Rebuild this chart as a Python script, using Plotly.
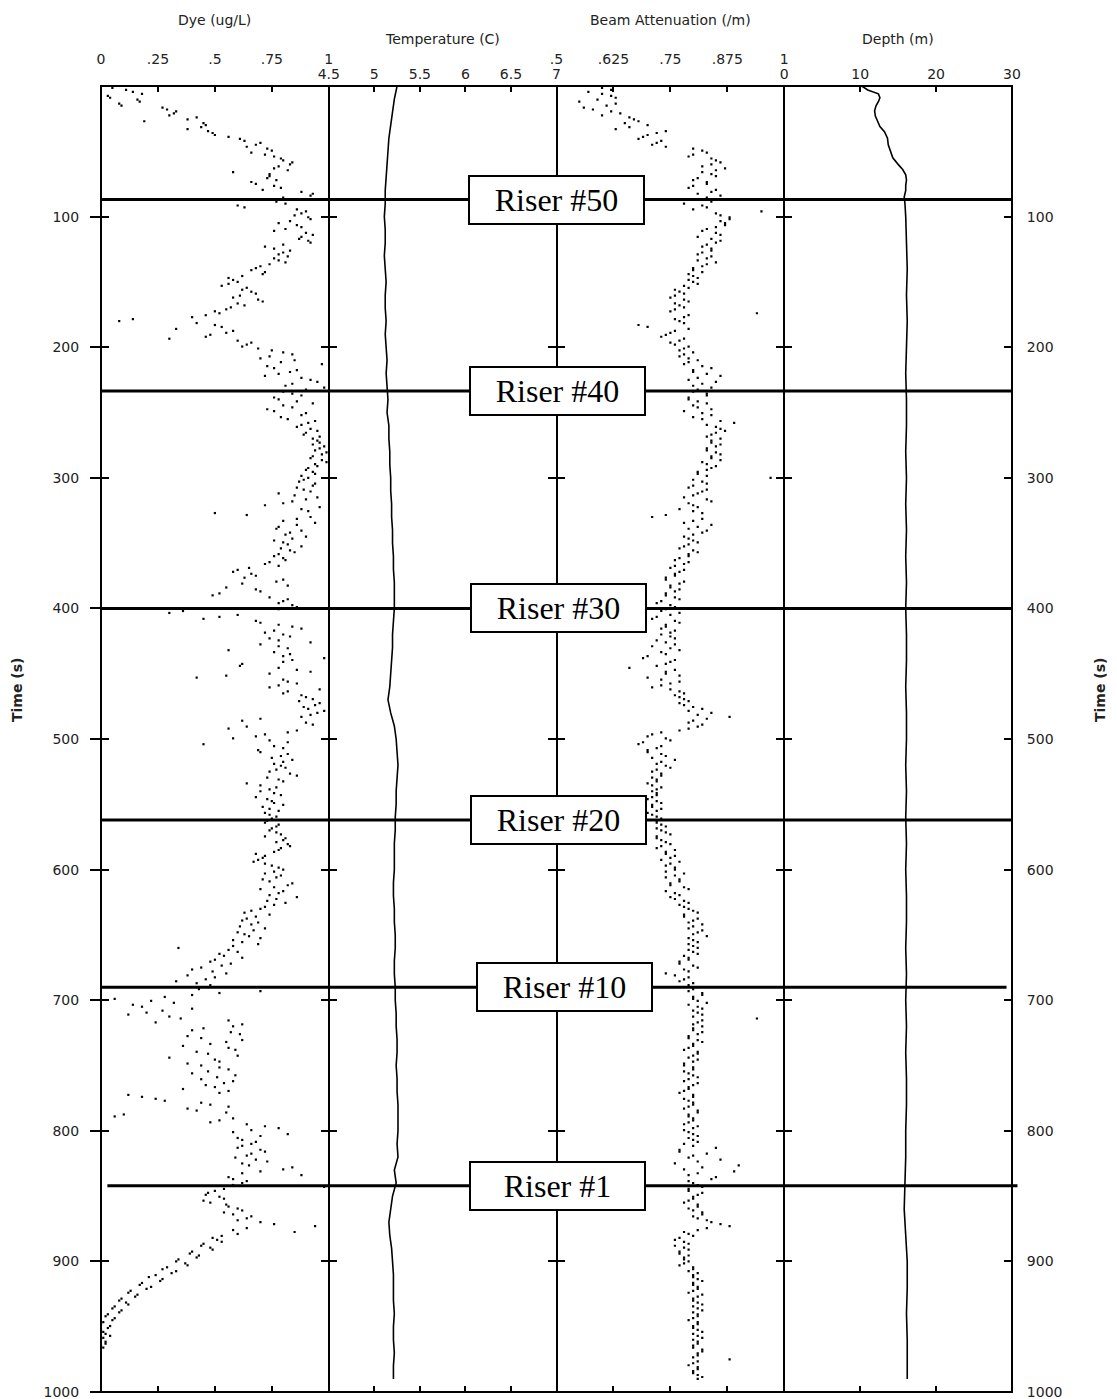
import plotly.graph_objects as go

# ---- data -------------------------------------------------------------
# Dye concentration (ug/L): two interleaved sample sets, every 3 s
dye_time = list(range(0, 967, 3))
dye = [
    0.02, 0.11, 0.18, 0.04, 0.17, 0.09, 0.29, 0.32, 0.42, 0.19,
    0.46, 0.38, 0.49, 0.56, 0.63, 0.68, 0.73, 0.66, 0.76, 0.80,
    0.83, 0.76, 0.58, 0.74, 0.77, 0.68, 0.79, 0.88, 0.92, 0.79,
    0.81, 0.63, 0.90, 0.85, 0.92, 0.78, 0.88, 0.76, 0.93, 0.87,
    0.92, 0.72, 0.83, 0.78, 0.76, 0.81, 0.70, 0.66, 0.71, 0.56,
    0.60, 0.53, 0.62, 0.68, 0.58, 0.71, 0.63, 0.55, 0.52, 0.40,
    0.08, 0.50, 0.33, 0.55, 0.46, 0.60, 0.64, 0.69, 0.80, 0.74,
    0.85, 0.97, 0.76, 0.83, 0.72, 0.92, 0.84, 0.98, 0.80, 0.88,
    0.78, 0.93, 0.84, 0.76, 0.88, 0.82, 0.91, 0.86, 0.95, 0.89,
    0.93, 0.96, 0.98, 0.94, 0.97, 0.92, 0.99, 0.95, 0.90, 0.94,
    0.91, 0.87, 0.93, 0.89, 0.78, 0.95, 0.84, 0.72, 0.88, 0.50,
    0.92, 0.80, 0.86, 0.77, 0.83, 0.90, 0.76, 0.82, 0.79, 0.85,
    0.76, 0.81, 0.72, 0.65, 0.58, 0.68, 0.80, 0.62, 0.55, 0.70,
    0.49, 0.82, 0.78, 0.86, 0.36, 0.60, 0.45, 0.70, 0.84, 0.76,
    0.80, 0.74, 0.92, 0.78, 0.56, 0.83, 0.98, 0.80, 0.61, 0.86,
    0.74, 0.42, 0.82, 0.78, 0.96, 0.80, 0.90, 0.87, 0.94, 0.91,
    0.95, 0.88, 0.62, 0.93, 0.56, 0.82, 0.68, 0.74, 0.45, 0.80,
    0.70, 0.79, 0.84, 0.76, 0.81, 0.74, 0.86, 0.78, 0.64, 0.77,
    0.70, 0.79, 0.73, 0.76, 0.71, 0.78, 0.74, 0.75, 0.72, 0.77,
    0.74, 0.79, 0.81, 0.77, 0.83, 0.78, 0.68, 0.71, 0.67, 0.75,
    0.80, 0.72, 0.77, 0.74, 0.82, 0.70, 0.78, 0.86, 0.73, 0.76,
    0.70, 0.63, 0.68, 0.62, 0.66, 0.72, 0.60, 0.65, 0.58, 0.69,
    0.34, 0.60, 0.54, 0.50, 0.57, 0.44, 0.49, 0.38, 0.46, 0.42,
    0.47, 0.70, 0.40, 0.06, 0.32, 0.18, 0.27, 0.12, 0.35, 0.24,
    0.58, 0.40, 0.61, 0.44, 0.55, 0.36, 0.59, 0.47, 0.30, 0.52,
    0.44, 0.56, 0.40, 0.51, 0.58, 0.46, 0.36, 0.52, 0.18, 0.28,
    0.48, 0.38, 0.55, 0.06, 0.52, 0.64, 0.78, 0.58, 0.70, 0.62,
    0.66, 0.60, 0.72, 0.64, 0.68, 0.62, 0.84, 0.70, 0.88, 0.58,
    0.62, 0.98, 0.50, 0.46, 0.54, 0.48, 0.56, 0.62, 0.58, 0.64,
    0.70, 0.94, 0.58, 0.60, 0.49, 0.53, 0.44, 0.49, 0.39, 0.42,
    0.33, 0.38, 0.27, 0.31, 0.21, 0.26, 0.17, 0.20, 0.12, 0.15,
    0.08, 0.12, 0.05, 0.08, 0.02, 0.05, 0.00, 0.03, 0.01, 0.04,
    0.00, 0.02, 0.01,
]
dye_time_b = [t + 1.5 for t in range(0, 966, 3)]
dye_b = [
    0.05, 0.14, 0.03, 0.16, 0.08, 0.27, 0.33, 0.30, 0.38, 0.45,
    0.44, 0.47, 0.50, 0.61, 0.70, 0.64, 0.75, 0.72, 0.79, 0.84,
    0.78, 0.82, 0.74, 0.73, 0.66, 0.76, 0.71, 0.93, 0.80, 0.77,
    0.60, 0.86, 0.88, 0.91, 0.83, 0.86, 0.81, 0.90, 0.88, 0.91,
    0.80, 0.76, 0.80, 0.82, 0.78, 0.74, 0.68, 0.72, 0.62, 0.58,
    0.56, 0.64, 0.66, 0.61, 0.69, 0.60, 0.57, 0.50, 0.46, 0.14,
    0.42, 0.53, 0.58, 0.48, 0.30, 0.66, 0.62, 0.75, 0.84, 0.70,
    0.79, 0.73, 0.86, 0.78, 0.88, 0.95, 0.81, 0.90, 0.84, 0.76,
    0.86, 0.80, 0.73, 0.90, 0.79, 0.94, 0.88, 0.92, 0.90, 0.96,
    0.95, 0.93, 0.96, 0.99, 0.93, 0.97, 0.94, 0.91, 0.93, 0.88,
    0.89, 0.94, 0.86, 0.92, 0.85, 0.90, 0.80, 0.96, 0.91, 0.64,
    0.86, 0.94, 0.78, 0.88, 0.81, 0.84, 0.80, 0.88, 0.83, 0.78,
    0.80, 0.74, 0.78, 0.60, 0.66, 0.63, 0.77, 0.82, 0.68, 0.52,
    0.74, 0.80, 0.84, 0.78, 0.30, 0.52, 0.68, 0.78, 0.88, 0.72,
    0.83, 0.78, 0.70, 0.82, 0.76, 0.80, 0.84, 0.62, 0.78, 0.92,
    0.55, 0.80, 0.86, 0.74, 0.82, 0.88, 0.93, 0.96, 0.89, 0.98,
    0.92, 0.70, 0.90, 0.64, 0.86, 0.72, 0.58, 0.82, 0.76, 0.69,
    0.82, 0.75, 0.80, 0.79, 0.77, 0.83, 0.73, 0.80, 0.70, 0.74,
    0.76, 0.68, 0.75, 0.80, 0.74, 0.72, 0.77, 0.73, 0.78, 0.75,
    0.77, 0.72, 0.80, 0.82, 0.79, 0.76, 0.72, 0.69, 0.72, 0.78,
    0.76, 0.79, 0.71, 0.84, 0.76, 0.80, 0.74, 0.77, 0.81, 0.72,
    0.66, 0.74, 0.64, 0.69, 0.61, 0.67, 0.63, 0.70, 0.62, 0.58,
    0.56, 0.52, 0.62, 0.48, 0.53, 0.40, 0.55, 0.50, 0.33, 0.48,
    0.43, 0.52, 0.28, 0.22, 0.14, 0.40, 0.20, 0.30, 0.56, 0.62,
    0.45, 0.57, 0.38, 0.62, 0.48, 0.56, 0.42, 0.60, 0.50, 0.38,
    0.52, 0.47, 0.59, 0.44, 0.54, 0.50, 0.56, 0.12, 0.24, 0.44,
    0.56, 0.42, 0.10, 0.58, 0.48, 0.72, 0.66, 0.82, 0.60, 0.68,
    0.62, 0.70, 0.66, 0.59, 0.73, 0.65, 0.80, 0.62, 0.56, 0.64,
    0.58, 0.54, 0.47, 0.52, 0.45, 0.55, 0.60, 0.54, 0.66, 0.60,
    0.76, 0.64, 0.85, 0.53, 0.51, 0.45, 0.48, 0.40, 0.43, 0.34,
    0.37, 0.29, 0.33, 0.24, 0.27, 0.18, 0.22, 0.13, 0.16, 0.09,
    0.11, 0.06, 0.09, 0.03, 0.06, 0.01, 0.04, 0.00, 0.02, 0.01,
    0.02, 0.00,
]

# Temperature (C), every 10 s
temp_time = list(range(0, 991, 10))
temperature = [
    5.25, 5.22, 5.20, 5.18, 5.16, 5.15, 5.14, 5.13, 5.12, 5.12,
    5.11, 5.12, 5.12, 5.11, 5.12, 5.13, 5.12, 5.12, 5.13, 5.12,
    5.13, 5.14, 5.13, 5.14, 5.15, 5.14, 5.16, 5.16, 5.17, 5.17,
    5.18, 5.18, 5.19, 5.19, 5.20, 5.20, 5.21, 5.21, 5.22, 5.22,
    5.22, 5.21, 5.20, 5.20, 5.19, 5.18, 5.17, 5.15, 5.18, 5.22,
    5.24, 5.25, 5.26, 5.25, 5.24, 5.24, 5.23, 5.23, 5.22, 5.22,
    5.22, 5.21, 5.21, 5.22, 5.22, 5.23, 5.23, 5.22, 5.22, 5.23,
    5.23, 5.24, 5.24, 5.25, 5.25, 5.24, 5.25, 5.25, 5.26, 5.26,
    5.26, 5.25, 5.26, 5.22, 5.24, 5.20, 5.18, 5.16, 5.17, 5.19,
    5.20, 5.21, 5.21, 5.21, 5.22, 5.21, 5.21, 5.22, 5.21, 5.21,
]

# Beam attenuation (/m): two interleaved sample sets, every 3 s
beam_time = list(range(0, 991, 3))
beam = [
    0.58, 0.62, 0.60, 0.63, 0.55, 0.61, 0.58, 0.64, 0.66, 0.68,
    0.70, 0.63, 0.72, 0.69, 0.73, 0.71, 0.80, 0.83, 0.79, 0.85,
    0.84, 0.87, 0.82, 0.85, 0.80, 0.83, 0.79, 0.84, 0.86, 0.82,
    0.78, 0.83, 0.95, 0.86, 0.88, 0.87, 0.85, 0.82, 0.86, 0.84,
    0.85, 0.82, 0.84, 0.81, 0.83, 0.85, 0.82, 0.80, 0.79, 0.81,
    0.80, 0.78, 0.76, 0.78, 0.75, 0.79, 0.77, 0.76, 0.94, 0.78,
    0.77, 0.68, 0.79, 0.75, 0.73, 0.77, 0.76, 0.78, 0.80, 0.77,
    0.81, 0.78, 0.84, 0.80, 0.86, 0.79, 0.82, 0.84, 0.80, 0.83,
    0.79, 0.83, 0.81, 0.78, 0.84, 0.82, 0.89, 0.85, 0.87, 0.84,
    0.86, 0.84, 0.85, 0.83, 0.86, 0.84, 0.82, 0.85, 0.83, 0.81,
    0.97, 0.82, 0.80, 0.83, 0.81, 0.78, 0.84, 0.80, 0.77, 0.82,
    0.71, 0.80, 0.84, 0.79, 0.82, 0.78, 0.80, 0.79, 0.77, 0.81,
    0.79, 0.76, 0.78, 0.75, 0.77, 0.76, 0.74, 0.77, 0.75, 0.76,
    0.74, 0.77, 0.72, 0.76, 0.73, 0.75, 0.71, 0.77, 0.74, 0.76,
    0.73, 0.76, 0.74, 0.71, 0.77, 0.74, 0.69, 0.75, 0.72, 0.76,
    0.74, 0.70, 0.77, 0.73, 0.75, 0.78, 0.77, 0.79, 0.78, 0.82,
    0.84, 0.88, 0.80, 0.82, 0.79, 0.73, 0.70, 0.75, 0.68, 0.72,
    0.70, 0.74, 0.76, 0.72, 0.75, 0.71, 0.73, 0.72, 0.70, 0.73,
    0.71, 0.72, 0.70, 0.73, 0.71, 0.72, 0.71, 0.73, 0.72, 0.74,
    0.73, 0.75, 0.72, 0.74, 0.73, 0.76, 0.74, 0.75, 0.77, 0.74,
    0.76, 0.78, 0.74, 0.77, 0.75, 0.79, 0.76, 0.75, 0.78, 0.77,
    0.79, 0.81, 0.78, 0.80, 0.82, 0.79, 0.81, 0.83, 0.80, 0.79,
    0.81, 0.80, 0.78, 0.79, 0.77, 0.81, 0.79, 0.76, 0.78, 0.80,
    0.81, 0.79, 0.82, 0.80, 0.83, 0.81, 0.80, 0.82, 0.94, 0.81,
    0.82, 0.80, 0.81, 0.79, 0.82, 0.80, 0.78, 0.81, 0.79, 0.80,
    0.78, 0.80, 0.79, 0.81, 0.78, 0.80, 0.79, 0.77, 0.80, 0.79,
    0.80, 0.78, 0.81, 0.79, 0.80, 0.78, 0.80, 0.79, 0.81, 0.80,
    0.78, 0.85, 0.77, 0.80, 0.86, 0.76, 0.82, 0.89, 0.79, 0.84,
    0.80, 0.82, 0.79, 0.81, 0.80, 0.78, 0.81, 0.80, 0.82, 0.81,
    0.84, 0.88, 0.81, 0.79, 0.77, 0.78, 0.76, 0.79, 0.77, 0.78,
    0.79, 0.77, 0.80, 0.81, 0.80, 0.82, 0.80, 0.81, 0.79, 0.81,
    0.80, 0.82, 0.81, 0.80, 0.81, 0.79, 0.81, 0.80, 0.82, 0.81,
    0.80, 0.81, 0.80, 0.82, 0.81, 0.88, 0.80, 0.81, 0.80, 0.81,
    0.81,
]
beam_time_b = [t + 1.5 for t in range(0, 990, 3)]
beam_b = [
    0.60, 0.57, 0.62, 0.59, 0.63, 0.56, 0.62, 0.60, 0.67, 0.65,
    0.66, 0.74, 0.70, 0.68, 0.72, 0.74, 0.82, 0.80, 0.84, 0.86,
    0.82, 0.85, 0.84, 0.81, 0.83, 0.80, 0.85, 0.81, 0.83, 0.84,
    0.82, 0.80, 0.85, 0.88, 0.86, 0.87, 0.83, 0.85, 0.81, 0.86,
    0.83, 0.84, 0.82, 0.84, 0.81, 0.83, 0.80, 0.82, 0.80, 0.79,
    0.81, 0.79, 0.77, 0.76, 0.78, 0.76, 0.78, 0.75, 0.79, 0.76,
    0.78, 0.70, 0.76, 0.74, 0.78, 0.75, 0.79, 0.77, 0.78, 0.79,
    0.79, 0.82, 0.80, 0.83, 0.81, 0.85, 0.80, 0.81, 0.83, 0.79,
    0.81, 0.80, 0.84, 0.82, 0.80, 0.86, 0.83, 0.86, 0.85, 0.83,
    0.84, 0.86, 0.83, 0.85, 0.84, 0.86, 0.83, 0.84, 0.81, 0.83,
    0.80, 0.83, 0.79, 0.82, 0.80, 0.83, 0.79, 0.81, 0.80, 0.74,
    0.82, 0.78, 0.81, 0.83, 0.80, 0.79, 0.81, 0.78, 0.80, 0.79,
    0.77, 0.79, 0.76, 0.78, 0.76, 0.74, 0.78, 0.75, 0.77, 0.74,
    0.76, 0.73, 0.75, 0.74, 0.77, 0.72, 0.76, 0.74, 0.73, 0.75,
    0.75, 0.72, 0.76, 0.75, 0.73, 0.70, 0.76, 0.74, 0.66, 0.74,
    0.77, 0.73, 0.75, 0.71, 0.77, 0.76, 0.78, 0.77, 0.80, 0.79,
    0.81, 0.83, 0.79, 0.81, 0.77, 0.71, 0.74, 0.69, 0.73, 0.70,
    0.73, 0.71, 0.73, 0.74, 0.72, 0.73, 0.71, 0.72, 0.71, 0.72,
    0.72, 0.71, 0.72, 0.71, 0.73, 0.70, 0.72, 0.72, 0.73, 0.72,
    0.74, 0.72, 0.73, 0.75, 0.72, 0.74, 0.76, 0.73, 0.75, 0.76,
    0.74, 0.76, 0.77, 0.75, 0.78, 0.74, 0.77, 0.76, 0.79, 0.78,
    0.80, 0.78, 0.81, 0.79, 0.80, 0.82, 0.80, 0.79, 0.81, 0.80,
    0.79, 0.81, 0.79, 0.77, 0.80, 0.78, 0.74, 0.79, 0.77, 0.79,
    0.80, 0.82, 0.80, 0.81, 0.79, 0.82, 0.81, 0.80, 0.82, 0.80,
    0.80, 0.82, 0.79, 0.81, 0.80, 0.79, 0.81, 0.80, 0.81, 0.78,
    0.80, 0.78, 0.80, 0.79, 0.81, 0.79, 0.78, 0.80, 0.78, 0.80,
    0.79, 0.81, 0.79, 0.80, 0.79, 0.81, 0.78, 0.80, 0.79, 0.81,
    0.80, 0.77, 0.83, 0.79, 0.81, 0.90, 0.78, 0.81, 0.85, 0.79,
    0.81, 0.79, 0.82, 0.80, 0.79, 0.81, 0.79, 0.82, 0.80, 0.83,
    0.86, 0.83, 0.78, 0.80, 0.76, 0.79, 0.78, 0.77, 0.79, 0.78,
    0.78, 0.80, 0.79, 0.80, 0.81, 0.80, 0.81, 0.80, 0.82, 0.80,
    0.81, 0.80, 0.82, 0.81, 0.80, 0.81, 0.80, 0.81, 0.80, 0.82,
    0.81, 0.80, 0.82, 0.81, 0.80, 0.81, 0.79, 0.81, 0.80, 0.82,
]

# Depth (m)
depth_time = [0, 3, 6, 9, 12, 15, 19, 23, 27, 31, 35, 40, 45, 50, 55, 60,
              64, 68, 72, 76, 80, 85, 90,
              100, 120, 140, 160, 180, 200, 220, 240, 260, 280, 300, 320,
              340, 360, 380, 400, 420, 440, 460, 480, 500, 520, 540, 560,
              580, 600, 620, 640, 660, 680, 700, 720, 740, 760, 780, 800,
              820, 840, 860, 880, 900, 920, 940, 960, 980, 990]
depth = [10.2, 11.0, 12.4, 12.6, 12.4, 12.1, 11.9, 12.0, 12.3, 12.6, 13.2,
         13.6, 13.7, 14.0, 14.3, 15.0, 15.6, 16.0, 16.1, 16.0, 16.0, 15.8,
         15.9,
         16.0, 16.1, 16.2, 16.1, 16.2, 16.1, 16.0, 16.1, 16.1, 16.0, 16.1,
         16.0, 16.1, 16.0, 16.1, 16.0, 16.1, 16.1, 16.0, 16.1, 16.1, 16.0,
         16.1, 16.0, 16.1, 16.0, 16.1, 16.1, 16.0, 16.1, 16.0, 16.1, 16.0,
         16.1, 16.1, 16.0, 16.0, 15.9, 15.8, 16.0, 16.2, 16.2, 16.1, 16.2,
         16.2, 16.2]

# Riser crossings (s)
riser_names = ["Riser #50", "Riser #40", "Riser #30", "Riser #20", "Riser #10", "Riser #1"]
riser_time = [87, 233.5, 400, 562, 690, 842]

# Top axis ticks
dye_ticks = [0, 0.25, 0.5, 0.75, 1]
dye_ticktext = ["0", ".25", ".5", ".75", "1"]
temp_ticks = [4.5, 5, 5.5, 6, 6.5, 7]
temp_ticktext = ["4.5", "5", "5.5", "6", "6.5", "7"]
beam_ticks = [0.5, 0.625, 0.75, 0.875, 1]
beam_ticktext = [".5", ".625", ".75", ".875", "1"]
depth_ticks = [0, 10, 20, 30]
depth_ticktext = ["0", "10", "20", "30"]
time_ticks = [100, 200, 300, 400, 500, 600, 700, 800, 900, 1000]

# ---- figure -----------------------------------------------------------
SANS = "DejaVu Sans"
SERIF = "Liberation Serif, Times New Roman, serif"
INK = "black"

fig = go.Figure()
dots = dict(symbol="square", size=2.2, color=INK, line=dict(width=0))
# second dye set sits on an overlaid copy of the time axis that carries the
# outer left tick marks and labels
fig.add_trace(go.Scatter(x=dye, y=dye_time, mode="markers", marker=dots,
                         xaxis="x", yaxis="y", hoverinfo="skip"))
fig.add_trace(go.Scatter(x=dye_b, y=dye_time_b, mode="markers", marker=dots,
                         xaxis="x", yaxis="y5", hoverinfo="skip"))
fig.add_trace(go.Scatter(x=temperature, y=temp_time, mode="lines",
                         line=dict(color=INK, width=1.6),
                         xaxis="x2", yaxis="y2", hoverinfo="skip"))
for xs, ys in ((beam, beam_time), (beam_b, beam_time_b)):
    fig.add_trace(go.Scatter(x=xs, y=ys, mode="markers", marker=dots,
                             xaxis="x3", yaxis="y3", hoverinfo="skip"))
fig.add_trace(go.Scatter(x=depth, y=depth_time, mode="lines",
                         line=dict(color=INK, width=1.6),
                         xaxis="x4", yaxis="y4", hoverinfo="skip"))

frame = dict(showline=True, linecolor=INK, linewidth=1.1, mirror="ticks",
             ticks="inside", tickcolor=INK, tickwidth=1.5, automargin=False,
             showgrid=False, zeroline=False, fixedrange=True,
             ticklabeloverflow="allow")
tickfont = dict(family=SANS, size=14, color="#222")

def top_axis(domain, rng, vals, text, anchor, standoff):
    return dict(frame, domain=domain, range=rng, side="top", anchor=anchor,
                tickmode="array", tickvals=vals, ticktext=text, ticklen=6,
                tickfont=tickfont, ticklabelstandoff=standoff)

def time_axis(anchor, side, labels, standoff=0):
    return dict(frame, domain=[0, 1], range=[1000, 0], anchor=anchor, side=side,
                tickmode="array", tickvals=time_ticks, ticklen=8,
                showticklabels=labels, tickfont=tickfont,
                ticklabelstandoff=standoff)

fig.update_layout(
    width=1117, height=1399,
    margin=dict(l=101, r=105, t=86, b=7),
    paper_bgcolor="white", plot_bgcolor="white",
    showlegend=False,
    xaxis=top_axis([0, 0.25], [0, 1], dye_ticks, dye_ticktext, "y", 15),
    xaxis2=top_axis([0.25, 0.5], [4.5, 7], temp_ticks, temp_ticktext, "y2", 0),
    xaxis3=top_axis([0.5, 0.75], [0.5, 1], beam_ticks, beam_ticktext, "y3", 15),
    xaxis4=top_axis([0.75, 1], [0, 30], depth_ticks, depth_ticktext, "y4", 0),
    yaxis=time_axis("x", "left", False),
    yaxis2=time_axis("x2", "left", False),
    yaxis3=time_axis("x3", "left", False),
    yaxis4=time_axis("x4", "right", True, 11),
    yaxis5=dict(overlaying="y", anchor="x", side="left", range=[1000, 0],
                tickmode="array", tickvals=time_ticks, ticks="outside",
                ticklen=10, tickwidth=1.5, tickcolor=INK, showline=False,
                showgrid=False, zeroline=False, fixedrange=True,
                automargin=False, ticklabeloverflow="allow",
                tickfont=tickfont, ticklabelstandoff=8),
)

# heavier outer frame around the four panels
fig.add_shape(type="rect", xref="paper", yref="paper", x0=0, x1=1, y0=0, y1=1,
              line=dict(color=INK, width=2), layer="above")

# axis titles
titles = [("Dye (ug/L)", "x domain", 66), ("Temperature (C)", "x2 domain", 47),
          ("Beam Attenuation (/m)", "x3 domain", 66), ("Depth (m)", "x4 domain", 47)]
for text, xref, shift in titles:
    fig.add_annotation(text=text, xref=xref, x=0.5, yref="paper", y=1,
                       yshift=shift, showarrow=False, xanchor="center",
                       yanchor="middle", font=dict(family=SANS, size=14, color="#222"))

for xpos, shift in ((-0.0933, -9), (1.0966, 10)):
    fig.add_annotation(text="<b>Time (s)</b>", xref="paper", x=xpos, xshift=shift,
                       yref="paper", y=0.5375, textangle=-90, showarrow=False,
                       font=dict(family=SANS, size=14, color="#222"))

# riser crossings: heavy horizontal rules with boxed labels
line_span = [(0, 1), (0, 1), (0, 1), (0, 1), (0, 0.994), (0.007, 1.006)]
box_center = [556.5, 557, 558.5, 558.5, 564.5, 557.5]
plot_left, plot_width = 101, 911
for name, t, (x0, x1), cx in zip(riser_names, riser_time, line_span, box_center):
    fig.add_shape(type="line", xref="paper", x0=x0, x1=x1, yref="y", y0=t, y1=t,
                  line=dict(color=INK, width=3), layer="above")
    fig.add_annotation(text=name, xref="paper", x=(cx - plot_left) / plot_width,
                       yref="y", y=t, showarrow=False, xanchor="center",
                       yanchor="middle", width=173, height=46, align="center",
                       bgcolor="white", bordercolor=INK, borderwidth=2, borderpad=0,
                       font=dict(family=SERIF, size=32, color=INK))

fig.write_html("out.html")
